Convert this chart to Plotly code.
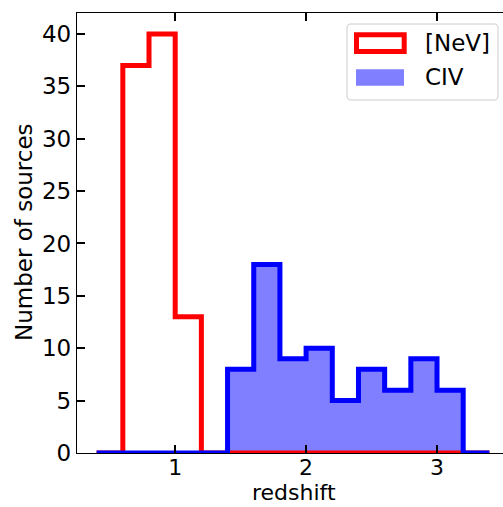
import numpy as np
import plotly.graph_objects as go

# ---- data ----
bin_edges = [0.4, 0.6, 0.8, 1.0, 1.2, 1.4, 1.6, 1.8, 2.0, 2.2, 2.4, 2.6, 2.8, 3.0, 3.2, 3.4]
nev_counts = [0, 37, 40, 13, 0, 0, 0, 0, 0, 0, 0, 0, 0, 0, 0]
civ_counts = [0, 0, 0, 0, 0, 8, 18, 9, 10, 5, 8, 6, 9, 6, 0]
series_names = ["[NeV]", "CIV"]
x_title = "redshift"
y_title = "Number of sources"
x_ticks = [1, 2, 3]
y_ticks = [0, 5, 10, 15, 20, 25, 30, 35, 40]


def step_path(edges, counts):
    xs = list(np.repeat(edges, 2))
    ys = [0] + list(np.repeat(counts, 2)) + [0]
    return xs, ys


W, H = 503, 507
ML, MR, MT, MB = 77, 0, 13, 54
PW, PH = W - ML - MR, H - MT - MB
FONT = "DejaVu Sans"
FS = 23
FSX = 22

nx, ny = step_path(bin_edges, nev_counts)
cx, cy = step_path(bin_edges, civ_counts)

fig = go.Figure()
# CIV filled area (fill only)
fig.add_trace(go.Scatter(x=cx, y=cy, mode="lines", fill="tozeroy",
                         fillcolor="rgba(0,0,255,0.5)", line=dict(width=0),
                         showlegend=False, hoverinfo="skip"))
# [NeV] outline
fig.add_trace(go.Scatter(x=nx, y=ny, mode="lines", name=series_names[0],
                         line=dict(color="#ff0000", width=5), showlegend=False))
# CIV outline
fig.add_trace(go.Scatter(x=cx, y=cy, mode="lines", name=series_names[1],
                         line=dict(color="#0000ff", width=5), showlegend=False))


def px2paper(px, py):
    return (px - ML) / PW, (H - MB - py) / PH


def rounded_rect(x0, y0, x1, y1, r=4):
    # pixel coordinates -> paper path with rounded corners
    def p(x, y):
        a, b = px2paper(x, y)
        return f"{a:.5f},{b:.5f}"
    return (f"M{p(x0 + r, y0)} L{p(x1 - r, y0)} Q{p(x1, y0)} {p(x1, y0 + r)} "
            f"L{p(x1, y1 - r)} Q{p(x1, y1)} {p(x1 - r, y1)} L{p(x0 + r, y1)} "
            f"Q{p(x0, y1)} {p(x0, y1 - r)} L{p(x0, y0 + r)} Q{p(x0, y0)} {p(x0 + r, y0)} Z")


shapes = []
# legend frame
shapes.append(dict(type="path", xref="paper", yref="paper",
                   path=rounded_rect(347, 24, 498, 100, 4),
                   line=dict(color="#cccccc", width=1), fillcolor="rgba(255,255,255,0.8)",
                   layer="above"))
# legend patches
a0, b0 = px2paper(356.5, 34.8)
a1, b1 = px2paper(404.2, 51.5)
shapes.append(dict(type="rect", xref="paper", yref="paper", x0=a0, x1=a1, y0=b1, y1=b0,
                   line=dict(color="#ff0000", width=5), fillcolor="rgba(0,0,0,0)", layer="above"))
a0, b0 = px2paper(356, 69.3)
a1, b1 = px2paper(404, 85.7)
shapes.append(dict(type="rect", xref="paper", yref="paper", x0=a0, x1=a1, y0=b1, y1=b0,
                   line=dict(width=0), fillcolor="rgba(0,0,255,0.5)", layer="above"))

annotations = []
for name, ypx in zip(series_names, [43, 77]):
    ax, ay = px2paper(423, ypx)
    annotations.append(dict(xref="paper", yref="paper", x=ax, y=ay, text=name,
                            showarrow=False, xanchor="left", yanchor="middle",
                            font=dict(family=FONT, size=FS, color="black")))
# axis titles
ax, ay = px2paper(294, 507)
annotations.append(dict(xref="paper", yref="paper", x=ax, y=ay, text=x_title,
                        showarrow=False, xanchor="center", yanchor="bottom",
                        font=dict(family=FONT, size=FSX, color="black")))
ax, ay = px2paper(24, 232)
annotations.append(dict(xref="paper", yref="paper", x=ax, y=ay, text=y_title,
                        showarrow=False, xanchor="center", yanchor="middle", textangle=-90,
                        font=dict(family=FONT, size=FS, color="black")))

fig.update_layout(
    width=W, height=H,
    margin=dict(l=ML, r=MR, t=MT, b=MB, pad=0),
    paper_bgcolor="white", plot_bgcolor="white",
    font=dict(family=FONT, size=FS, color="black"),
    showlegend=False,
    shapes=shapes, annotations=annotations,
    xaxis=dict(range=[0.25, 3.504], tickvals=x_ticks, ticks="inside", ticklen=8,
               tickwidth=1.5, tickcolor="black", showline=True, linecolor="black",
               linewidth=1.3, mirror="ticks", showgrid=False, zeroline=False,
               tickfont=dict(family=FONT, size=FSX, color="black"),
               ticklabelstandoff=-6, automargin=False),
    yaxis=dict(range=[0, 42], tickvals=y_ticks, ticks="inside", ticklen=8,
               tickwidth=1.5, tickcolor="black", showline=True, linecolor="black",
               linewidth=1.3, showgrid=False, zeroline=False, ticklabelstandoff=0,
               automargin=False),
    yaxis2=dict(range=[0, 42], overlaying="y", side="right", anchor="x",
                tickvals=y_ticks, ticks="inside", ticklen=8, tickwidth=1.5,
                tickcolor="black", showline=False, showticklabels=False,
                showgrid=False, zeroline=False, automargin=False),
)

fig.write_html("out.html")
